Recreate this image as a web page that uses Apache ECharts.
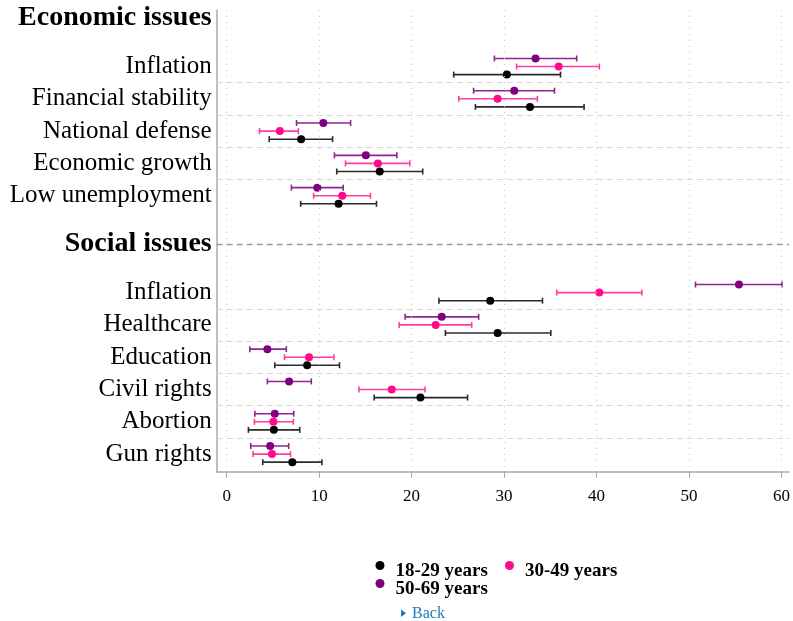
<!DOCTYPE html>
<html><head><meta charset="utf-8">
<script src="https://cdn.jsdelivr.net/npm/echarts@6/dist/echarts.min.js"></script>
<style>html,body{margin:0;padding:0;background:#fff}#c{width:793px;height:621px}</style>
</head><body><div id="c"></div>
<script>
// ---------- data ----------
const sections = ['Economic issues', 'Social issues'];
const econCategories = ['Inflation', 'Financial stability', 'National defense', 'Economic growth', 'Low unemployment'];
const socialCategories = ['Inflation', 'Healthcare', 'Education', 'Civil rights', 'Abortion', 'Gun rights'];
const ageGroups = ['18-29 years', '30-49 years', '50-69 years'];
// order: 5 economic issues, then 6 social issues
const mean1829 = [30.3, 32.8, 8.05, 16.55, 12.1, 28.5, 29.3, 8.7, 20.95, 5.1, 7.1];
const low1829  = [24.55, 26.9, 4.6, 11.9, 8.0, 22.95, 23.65, 5.2, 15.95, 2.35, 3.9];
const high1829 = [36.1, 38.65, 11.45, 21.2, 16.2, 34.15, 35.05, 12.2, 26.05, 7.9, 10.3];
const mean3049 = [35.9, 29.3, 5.75, 16.35, 12.5, 40.3, 22.6, 8.9, 17.85, 5.05, 4.9];
const low3049  = [31.35, 25.1, 3.55, 12.85, 9.4, 35.7, 18.65, 6.25, 14.3, 3.0, 2.85];
const high3049 = [40.3, 33.6, 7.75, 19.8, 15.55, 44.9, 26.5, 11.6, 21.45, 7.2, 6.9];
const mean5069 = [33.4, 31.1, 10.45, 15.05, 9.8, 55.4, 23.25, 4.4, 6.75, 5.2, 4.7];
const low5069  = [28.95, 26.7, 7.55, 11.65, 7.0, 50.7, 19.3, 2.5, 4.4, 3.05, 2.6];
const high5069 = [37.85, 35.45, 13.4, 18.4, 12.6, 60.05, 27.25, 6.45, 9.15, 7.25, 6.7];
const xTicks = [0, 10, 20, 30, 40, 50, 60];

// ---------- layout (half-row units on an inverted value axis) ----------
const labelAt = [];
const rowPos = [];
const sepPos = [];
let sectionLinePos = null;
let p = 0.5;
labelAt.push({pos: p, text: sections[0], header: true});
p += 3;
econCategories.forEach((c, i) => {
  labelAt.push({pos: p, text: c}); rowPos.push(p);
  if (i < econCategories.length - 1) sepPos.push(p + 1);
  p += 2;
});
p += 1;
labelAt.push({pos: p, text: sections[1], header: true});
sectionLinePos = p;
p += 3;
socialCategories.forEach((c, i) => {
  labelAt.push({pos: p, text: c}); rowPos.push(p);
  if (i < socialCategories.length - 1) sepPos.push(p + 1);
  p += 2;
});

const FONT = '"Liberation Serif", "DejaVu Serif", serif';
const groups = [
  {name: ageGroups[0], mean: mean1829, low: low1829, high: high1829, offset: 0.5, color: '#000000', bar: '#2b2b2b'},
  {name: ageGroups[1], mean: mean3049, low: low3049, high: high3049, offset: 0, color: '#ff0a8c', bar: '#ff3d9f'},
  {name: ageGroups[2], mean: mean5069, low: low5069, high: high5069, offset: -0.5, color: '#800080', bar: '#8c268c'}
];

function renderBar(color) {
  return function (params, api) {
    const lo = api.coord([api.value(0), api.value(2)]);
    const hi = api.coord([api.value(1), api.value(2)]);
    const s = {stroke: color, lineWidth: 1.6};
    return {type: 'group', children: [
      {type: 'line', shape: {x1: lo[0], y1: lo[1], x2: hi[0], y2: hi[1]}, style: s},
      {type: 'line', shape: {x1: lo[0], y1: lo[1] - 3, x2: lo[0], y2: lo[1] + 3}, style: s},
      {type: 'line', shape: {x1: hi[0], y1: hi[1] - 3, x2: hi[0], y2: hi[1] + 3}, style: s}
    ]};
  };
}

const series = [];
series.push({
  type: 'scatter', data: [], silent: true, z: 1,
  markLine: {
    silent: true, symbol: 'none', label: {show: false}, animation: false,
    data: [
      ...xTicks.map(v => ({xAxis: v, lineStyle: {type: [1, 5], color: '#c8c8c8', width: 1}})),
      ...sepPos.map(v => ({yAxis: v, lineStyle: {type: [6, 4], color: '#d6d6d6', width: 1}})),
      {yAxis: sectionLinePos, lineStyle: {type: [6, 4], color: '#9a9a9a', width: 1.3}}
    ]
  }
});
groups.forEach(g => {
  series.push({
    type: 'custom', name: g.name + ' CI', renderItem: renderBar(g.bar), z: 3,
    encode: {x: [0, 1], y: 2},
    data: g.mean.map((m, i) => [g.low[i], g.high[i], rowPos[i] + g.offset])
  });
});
groups.forEach(g => {
  series.push({
    type: 'scatter', name: g.name, symbol: 'circle', symbolSize: 8, z: 4,
    itemStyle: {color: g.color, opacity: 1},
    data: g.mean.map((m, i) => [m, rowPos[i] + g.offset])
  });
});

function legendFor(i, left, top) {
  return {
    data: [{name: ageGroups[i], icon: 'circle'}], left: left, top: top,
    itemWidth: 9, itemHeight: 9, selectedMode: false, padding: 0,
    formatter: n => '{t|' + n + '}',
    textStyle: {
      fontFamily: FONT, fontWeight: 'bold', fontSize: 19, color: '#000',
      rich: {t: {fontFamily: FONT, fontWeight: 'bold', fontSize: 19, color: '#000', padding: [12, 0, 0, 6]}}
    }
  };
}

const option = {
  animation: false,
  backgroundColor: '#fff',
  grid: {left: 216.7, right: 3, top: 10, bottom: 149.3, containLabel: false},
  xAxis: {
    type: 'value', min: -1.08, max: 60.8,
    axisLine: {show: true, onZero: false, lineStyle: {color: '#a8a8a8', width: 1.5}},
    axisTick: {show: true, length: 6, customValues: xTicks, lineStyle: {color: '#a8a8a8'}},
    axisLabel: {customValues: xTicks, margin: 16, fontFamily: FONT, fontSize: 17, color: '#000'},
    splitLine: {show: false}
  },
  yAxis: {
    type: 'value', inverse: true, min: 0, max: 28.59, interval: 0.5,
    axisLine: {show: true, onZero: false, lineStyle: {color: '#a8a8a8', width: 1.5}},
    axisTick: {show: false}, splitLine: {show: false},
    axisLabel: {
      margin: 5, fontFamily: FONT, fontSize: 25, color: '#000',
      showMinLabel: true, showMaxLabel: true,
      formatter: v => {
        const l = labelAt.find(o => Math.abs(o.pos - v) < 1e-6);
        if (!l) return '';
        return l.header ? '{h|' + l.text + '}' : l.text;
      },
      rich: {h: {fontFamily: FONT, fontWeight: 'bold', fontSize: 28, color: '#000'}}
    }
  },
  legend: [legendFor(0, 375.5, 561), legendFor(1, 505, 561), legendFor(2, 375.5, 579)],
  graphic: [
    {type: 'polygon', shape: {points: [[401, 609.5], [401, 617], [406, 613.3]]}, style: {fill: '#1f78b4'}},
    {type: 'text', left: 412, top: 606, style: {text: 'Back', fontFamily: FONT, fontSize: 16, fill: '#1f78b4'}}
  ],
  series: series
};
const chart = echarts.init(document.getElementById('c'), null, {renderer: 'canvas'});
chart.setOption(option);
</script></body></html>
